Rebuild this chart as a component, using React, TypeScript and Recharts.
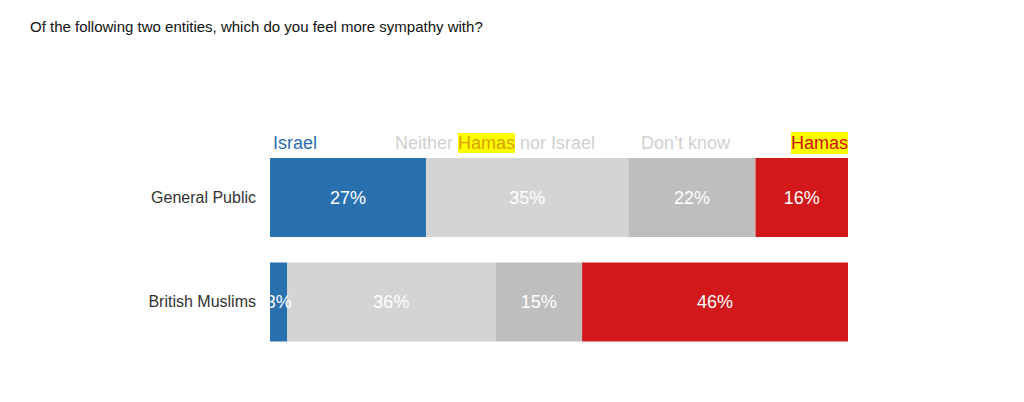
import { BarChart, Bar, XAxis, YAxis, LabelList } from 'recharts'

const groups = ['General Public', 'British Muslims']
const israel = [27, 3]
const neither = [35, 36]
const dontKnow = [22, 15]
const hamas = [16, 46]

const data = groups.map((g, i) => ({
  group: g,
  israel: israel[i],
  neither: neither[i],
  dontKnow: dontKnow[i],
  hamas: hamas[i],
}))

const series = [
  { key: 'israel', color: '#2870ae' },
  { key: 'neither', color: '#d4d4d4' },
  { key: 'dontKnow', color: '#bebebe' },
  { key: 'hamas', color: '#d3181b' },
]

const font = 'Arial, "Liberation Sans", Helvetica, sans-serif'
const hl = { background: '#ffff00' }

export default function App() {
  return (
    <div style={{ position: 'relative', width: 1008, height: 386, fontFamily: font }}>
      <div style={{ position: 'absolute', left: 22, top: 10, fontSize: 15, color: '#111' }}>
        Of the following two entities, which do you feel more sympathy with?
      </div>

      {/* legend labels above the bars */}
      <div style={{ position: 'absolute', top: 124, left: 0, width: 1008, fontSize: 18, lineHeight: '22px' }}>
        <span style={{ position: 'absolute', left: 265, color: '#2a6fb0' }}>Israel</span>
        <span style={{ position: 'absolute', left: 387, color: '#d0d0d0' }}>
          Neither <span style={{ ...hl, color: '#d8a000' }}>Hamas</span> nor Israel
        </span>
        <span style={{ position: 'absolute', left: 633, color: '#d0d0d0' }}>Don’t know</span>
        <span style={{ position: 'absolute', right: 168, color: '#cc1010', ...hl }}>Hamas</span>
      </div>

      <BarChart
        width={1008}
        height={386}
        data={data}
        layout="vertical"
        barCategoryGap={13}
        margin={{ top: 137, right: 168, bottom: 40, left: 0 }}
      >
        <XAxis type="number" domain={[0, 100]} hide />
        <YAxis
          type="category"
          dataKey="group"
          width={262}
          axisLine={false}
          tickLine={false}
          tickSize={0}
          tickMargin={14}
          tick={{ fontSize: 16, fill: '#333', fontFamily: font }}
        />
        {series.map((s) => (
          <Bar key={s.key} dataKey={s.key} stackId="a" fill={s.color} isAnimationActive={false}>
            <LabelList
              dataKey={s.key}
              position="center"
              fill="#fff"
              fontSize={18}
              fontFamily={font}
              formatter={(v: number) => v + '%'}
            />
          </Bar>
        ))}
      </BarChart>
    </div>
  )
}
